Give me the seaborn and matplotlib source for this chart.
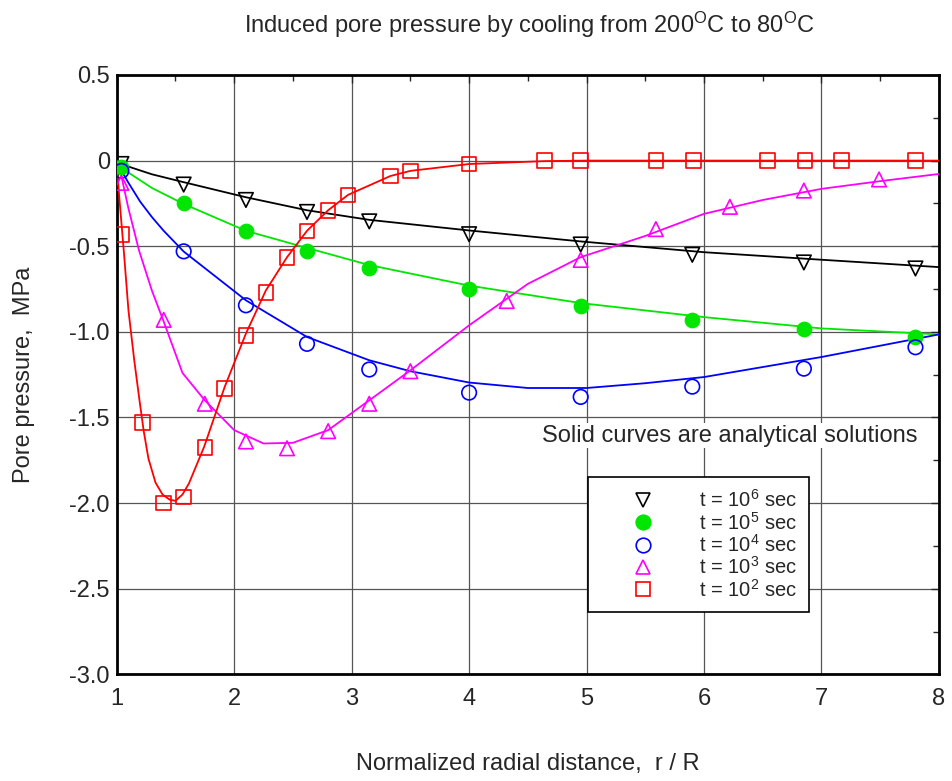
import numpy as np
import seaborn as sns
import matplotlib.pyplot as plt
from matplotlib.lines import Line2D
from matplotlib.ticker import MultipleLocator

# measured points (r/R, MPa)
x_1e6 = [1.04, 1.57, 2.10, 2.62, 3.15, 4.00, 4.95, 5.90, 6.85, 7.80]
p_1e6 = [-0.02, -0.14, -0.23, -0.30, -0.355, -0.43, -0.49, -0.55, -0.595, -0.63]
x_1e5 = [1.04, 1.57, 2.10, 2.62, 3.15, 4.00, 4.95, 5.90, 6.85, 7.80]
p_1e5 = [-0.035, -0.25, -0.41, -0.53, -0.63, -0.75, -0.85, -0.93, -0.985, -1.03]
x_1e4 = [1.04, 1.57, 2.10, 2.62, 3.15, 4.00, 4.95, 5.90, 6.85, 7.80]
p_1e4 = [-0.06, -0.53, -0.845, -1.07, -1.22, -1.355, -1.38, -1.32, -1.215, -1.09]
x_1e3 = [1.04, 1.40, 1.75, 2.10, 2.45, 2.80, 3.15, 3.50, 4.32, 4.95, 5.59, 6.22, 6.85, 7.49]
p_1e3 = [-0.13, -0.93, -1.42, -1.64, -1.68, -1.58, -1.42, -1.23, -0.82, -0.58, -0.40, -0.27, -0.175, -0.11]
x_1e2 = [1.04, 1.22, 1.40, 1.57, 1.75, 1.92, 2.10, 2.27, 2.45, 2.62, 2.80, 2.97, 3.33, 3.50,
         4.00, 4.64, 4.95, 5.59, 5.91, 6.54, 6.86, 7.17, 7.80]
p_1e2 = [-0.43, -1.53, -2.0, -1.965, -1.675, -1.33, -1.02, -0.77, -0.565, -0.41, -0.29, -0.20, -0.09, -0.06,
         -0.02, 0.0, 0.0, 0.0, 0.0, 0.0, 0.0, 0.0, 0.0]

# analytical curves
xc_1e6 = [1.0, 1.1, 1.3, 1.57, 2.1, 2.62, 3.15, 4.0, 4.95, 6.0, 7.0, 8.0]
pc_1e6 = [0.0, -0.035, -0.08, -0.126, -0.214, -0.29, -0.346, -0.408, -0.472, -0.535, -0.579, -0.622]
xc_1e5 = [1.0, 1.1, 1.3, 1.57, 2.1, 2.62, 3.15, 4.0, 4.95, 6.0, 7.0, 8.0]
pc_1e5 = [-0.01, -0.07, -0.16, -0.253, -0.41, -0.51, -0.61, -0.73, -0.832, -0.914, -0.98, -1.015]
xc_1e4 = [1.0, 1.04, 1.1, 1.2, 1.3, 1.4, 1.57, 2.1, 2.62, 3.15, 3.5, 4.0, 4.5, 5.0, 5.5, 6.0, 7.0, 8.0]
pc_1e4 = [-0.02, -0.058, -0.13, -0.24, -0.33, -0.41, -0.531, -0.816, -1.03, -1.166, -1.23, -1.296,
          -1.328, -1.328, -1.30, -1.264, -1.147, -1.015]
xc_1e3 = [1.0, 1.03, 1.1, 1.19, 1.3, 1.4, 1.56, 1.75, 2.0, 2.25, 2.5, 2.8, 3.15, 3.5, 4.0, 4.5,
          4.95, 5.5, 6.0, 6.5, 7.0, 7.5, 8.0]
pc_1e3 = [0.0, -0.06, -0.28, -0.525, -0.76, -0.94, -1.24, -1.40, -1.574, -1.652, -1.648, -1.574,
          -1.40, -1.225, -0.962, -0.72, -0.564, -0.44, -0.311, -0.23, -0.165, -0.12, -0.078]
xc_1e2 = [1.0, 1.02, 1.06, 1.1, 1.15, 1.19, 1.23, 1.27, 1.33, 1.39, 1.45, 1.5, 1.56, 1.615, 1.745,
          1.92, 2.1, 2.27, 2.45, 2.62, 2.8, 2.97, 3.33, 3.5, 4.0, 4.64, 5.0, 8.0]
pc_1e2 = [0.0, -0.2, -0.525, -0.875, -1.17, -1.38, -1.58, -1.74, -1.88, -1.95, -1.98, -1.987,
          -1.95, -1.885, -1.67, -1.32, -1.01, -0.758, -0.564, -0.41, -0.29, -0.20, -0.09, -0.06,
          -0.02, -0.003, 0.0, 0.0]

labels = [r"t = 10$^6$ sec", r"t = 10$^5$ sec", r"t = 10$^4$ sec", r"t = 10$^3$ sec", r"t = 10$^2$ sec"]
colors = ["black", "#00e600", "#0000ff", "#ff00ff", "#ff0000"]
markers = ["v", "o", "o", "^", "s"]
filled = [False, True, False, False, False]

sns.set_style("white")
plt.rcParams["font.family"] = ["Liberation Sans", "DejaVu Sans"]
plt.rcParams["mathtext.fontset"] = "custom"
plt.rcParams["mathtext.rm"] = "Liberation Sans"
plt.rcParams["mathtext.it"] = "Liberation Sans"

fig = plt.figure(figsize=(9.52, 7.81), dpi=100)
ax = fig.add_axes([0.1226, 0.1366, 0.8637, 0.7674])

curves = [(xc_1e6, pc_1e6), (xc_1e5, pc_1e5), (xc_1e4, pc_1e4), (xc_1e3, pc_1e3), (xc_1e2, pc_1e2)]
points = [(x_1e6, p_1e6), (x_1e5, p_1e5), (x_1e4, p_1e4), (x_1e3, p_1e3), (x_1e2, p_1e2)]

for (xc, pc), c in zip(curves, colors):
    sns.lineplot(x=xc, y=pc, color=c, linewidth=1.3, ax=ax, sort=False, zorder=3)

handles = []
for (xp, pp), c, m, f, lab in zip(points, colors, markers, filled, labels):
    if f:
        sns.scatterplot(x=xp, y=pp, marker=m, s=110, color=c, edgecolor=c, ax=ax, zorder=4)
    else:
        sns.scatterplot(x=xp, y=pp, marker=m, s=110, facecolor="none", edgecolor=c,
                        linewidth=1.2, ax=ax, zorder=4)
    handles.append(Line2D([], [], linestyle="none", marker=m, markersize=10.5,
                          markerfacecolor=c if f else "none", markeredgecolor=c,
                          markeredgewidth=1.2, label=lab))

ax.set_xlim(1, 8)
ax.set_ylim(-3.0, 0.5)
ax.xaxis.set_major_locator(MultipleLocator(1))
ax.xaxis.set_minor_locator(MultipleLocator(0.5))
ax.yaxis.set_major_locator(MultipleLocator(0.5))
ax.yaxis.set_minor_locator(MultipleLocator(0.25))
ax.set_yticks(np.arange(-3.0, 0.51, 0.5))
ax.set_yticklabels(["-3.0", "-2.5", "-2.0", "-1.5", "-1.0", "-0.5", "0", "0.5"])
ax.tick_params(which="both", direction="in", top=True, right=True, labelsize=17)
ax.tick_params(axis="x", pad=10)
ax.tick_params(axis="y", pad=5)
ax.tick_params(which="major", length=6, width=1)
ax.tick_params(which="minor", length=4, width=1)
ax.grid(True, which="major", color="#555555", linewidth=0.9)
for s in ax.spines.values():
    s.set_color("black")
    s.set_linewidth(2)

ax.set_xlabel("Normalized radial distance,  r / R", fontsize=17)
ax.set_ylabel("Pore pressure,  MPa", fontsize=17)
ax.xaxis.set_label_coords(0.5, -0.131)
ax.yaxis.set_label_coords(-0.099, 0.5)
fig.text(0.556, 1 - 25 / 781,
         r"Induced pore pressure by cooling from 200$^\mathrm{O}$C to 80$^\mathrm{O}$C",
         fontsize=17, ha="center", va="center")

ax.text(0.9745, 0.398, "Solid curves are analytical solutions", transform=ax.transAxes,
        ha="right", va="center", fontsize=17, zorder=5,
        bbox=dict(facecolor="white", edgecolor="none", pad=1))

leg = ax.legend(handles=handles, loc="upper left", bbox_to_anchor=(0.573, 0.329),
                borderaxespad=0, fontsize=14.5, frameon=True, fancybox=False, edgecolor="black",
                framealpha=1, handlelength=4.3, handletextpad=0.6, borderpad=0.6,
                labelspacing=0.02, markerscale=1.0)
leg.get_frame().set_linewidth(1.2)
leg.set_zorder(6)

plt.savefig("out.png", dpi=100)
